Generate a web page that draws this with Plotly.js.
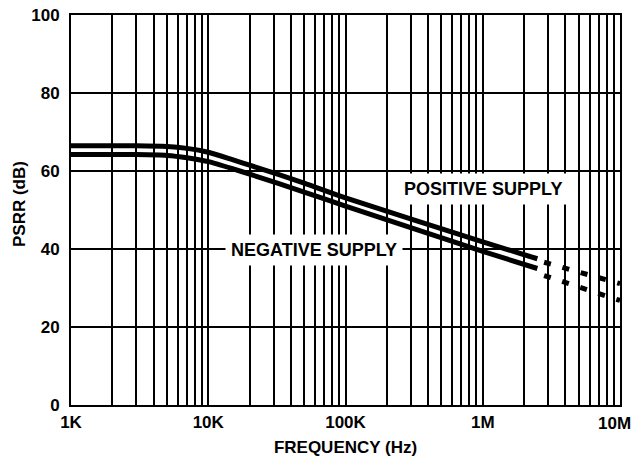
<!DOCTYPE html>
<html>
<head>
<meta charset="utf-8">
<script src="https://cdn.plot.ly/plotly-3.0.1.min.js"></script>
<style>html,body{margin:0;padding:0;background:#fff}#chart{width:634px;height:459px}</style>
</head>
<body>
<div id="chart"></div>
<script>
// Frequency (Hz) for the solid sections
var freqSolid = [1000, 3000, 5000, 7000, 10000, 15000, 20000, 50000, 100000, 1000000, 2500000];
var positiveSolid = [66.5, 66.5, 66.3, 65.8, 64.8, 62.9, 61.5, 56.9, 53.1, 41.8, 37.5];
var negativeSolid = [64.2, 64.2, 64.0, 63.4, 62.4, 60.6, 59.2, 54.6, 51.0, 39.4, 35.0];

// Extrapolated (dashed) sections
var freqDashed = [2800000, 10000000];
var positiveDashed = [36.6, 31.1];
var negativeDashed = [33.2, 26.8];

// Axis ticks
var decadeVals = [1000, 10000, 100000, 1000000, 10000000];
var decadeLabels = ['1K', '10K', '100K', '1M', '10M'];
var yTicks = [0, 20, 40, 60, 80, 100];

var gridVals = [], gridText = [];
for (var d = 0; d < decadeVals.length; d++) {
  var base = decadeVals[d];
  var lim = (d === decadeVals.length - 1) ? 1 : 9;
  for (var m = 1; m <= lim; m++) {
    gridVals.push(base * m);
    // last decade label sits flush at the right edge, drawn as an annotation below
    gridText.push(m === 1 && d < decadeVals.length - 1 ? decadeLabels[d] : '');
  }
}

var lineStyle = {color: '#000', width: 5, shape: 'spline', smoothing: 0.6};
var dashStyle = {color: '#000', width: 5, dash: '7px,12px'};

var traces = [
  {x: freqSolid, y: positiveSolid, mode: 'lines', line: lineStyle, name: 'POSITIVE SUPPLY'},
  {x: freqSolid, y: negativeSolid, mode: 'lines', line: lineStyle, name: 'NEGATIVE SUPPLY'},
  {x: freqDashed, y: positiveDashed, mode: 'lines', line: dashStyle, name: 'POSITIVE (ext)'},
  {x: freqDashed, y: negativeDashed, mode: 'lines', line: dashStyle, name: 'NEGATIVE (ext)'}
];

var fam = 'Liberation Sans, Arial, sans-serif';
var tickFont = {family: fam, size: 17, color: '#000', weight: 'bold'};
var titleFont = {family: fam, size: 17, color: '#000', weight: 'bold'};
var labelFont = {family: fam, size: 18, color: '#000', weight: 'bold'};

var W = 634, H = 459, ML = 71, MR = 14, MT = 15, MB = 54;
var pw = W - ML - MR, ph = H - MT - MB;

var layout = {
  width: W, height: H,
  margin: {l: ML, r: MR, t: MT, b: MB},
  paper_bgcolor: '#fff', plot_bgcolor: '#fff',
  showlegend: false,
  xaxis: {
    type: 'log', range: [3, 7],
    tickmode: 'array', tickvals: gridVals, ticktext: gridText,
    showgrid: true, gridcolor: '#000', gridwidth: 2,
    showline: true, linecolor: '#000', linewidth: 2, mirror: true,
    ticks: '', tickfont: tickFont, ticklabelstandoff: 1,
    zeroline: false,
    title: {text: 'FREQUENCY (Hz)', font: titleFont, standoff: 10}
  },
  yaxis: {
    range: [0, 100],
    tickmode: 'array', tickvals: yTicks,
    showgrid: true, gridcolor: '#000', gridwidth: 2,
    showline: true, linecolor: '#000', linewidth: 2, mirror: true,
    ticks: '', tickfont: tickFont, ticklabelstandoff: 6,
    zeroline: false
  },
  annotations: [
    {x: 6.0, y: 55.3, xref: 'x', yref: 'y', text: 'POSITIVE SUPPLY', showarrow: false,
     font: labelFont, bgcolor: '#fff', borderpad: 5},
    {x: 4.77, y: 39.8, xref: 'x', yref: 'y', text: 'NEGATIVE SUPPLY', showarrow: false,
     font: labelFont, bgcolor: '#fff', borderpad: 5},
    {x: (19 - ML) / pw, y: (H - MB - 204) / ph, xref: 'paper', yref: 'paper',
     xanchor: 'center', yanchor: 'middle',
     text: 'PSRR (dB)', textangle: -90, showarrow: false, font: titleFont},
    {x: (632 - ML) / pw, y: (H - MB - 423) / ph, xref: 'paper', yref: 'paper',
     xanchor: 'right', yanchor: 'middle', borderpad: 0,
     text: decadeLabels[decadeLabels.length - 1], showarrow: false, font: tickFont}
  ]
};

Plotly.newPlot('chart', traces, layout, {displayModeBar: false, staticPlot: true});
</script>
</body>
</html>
